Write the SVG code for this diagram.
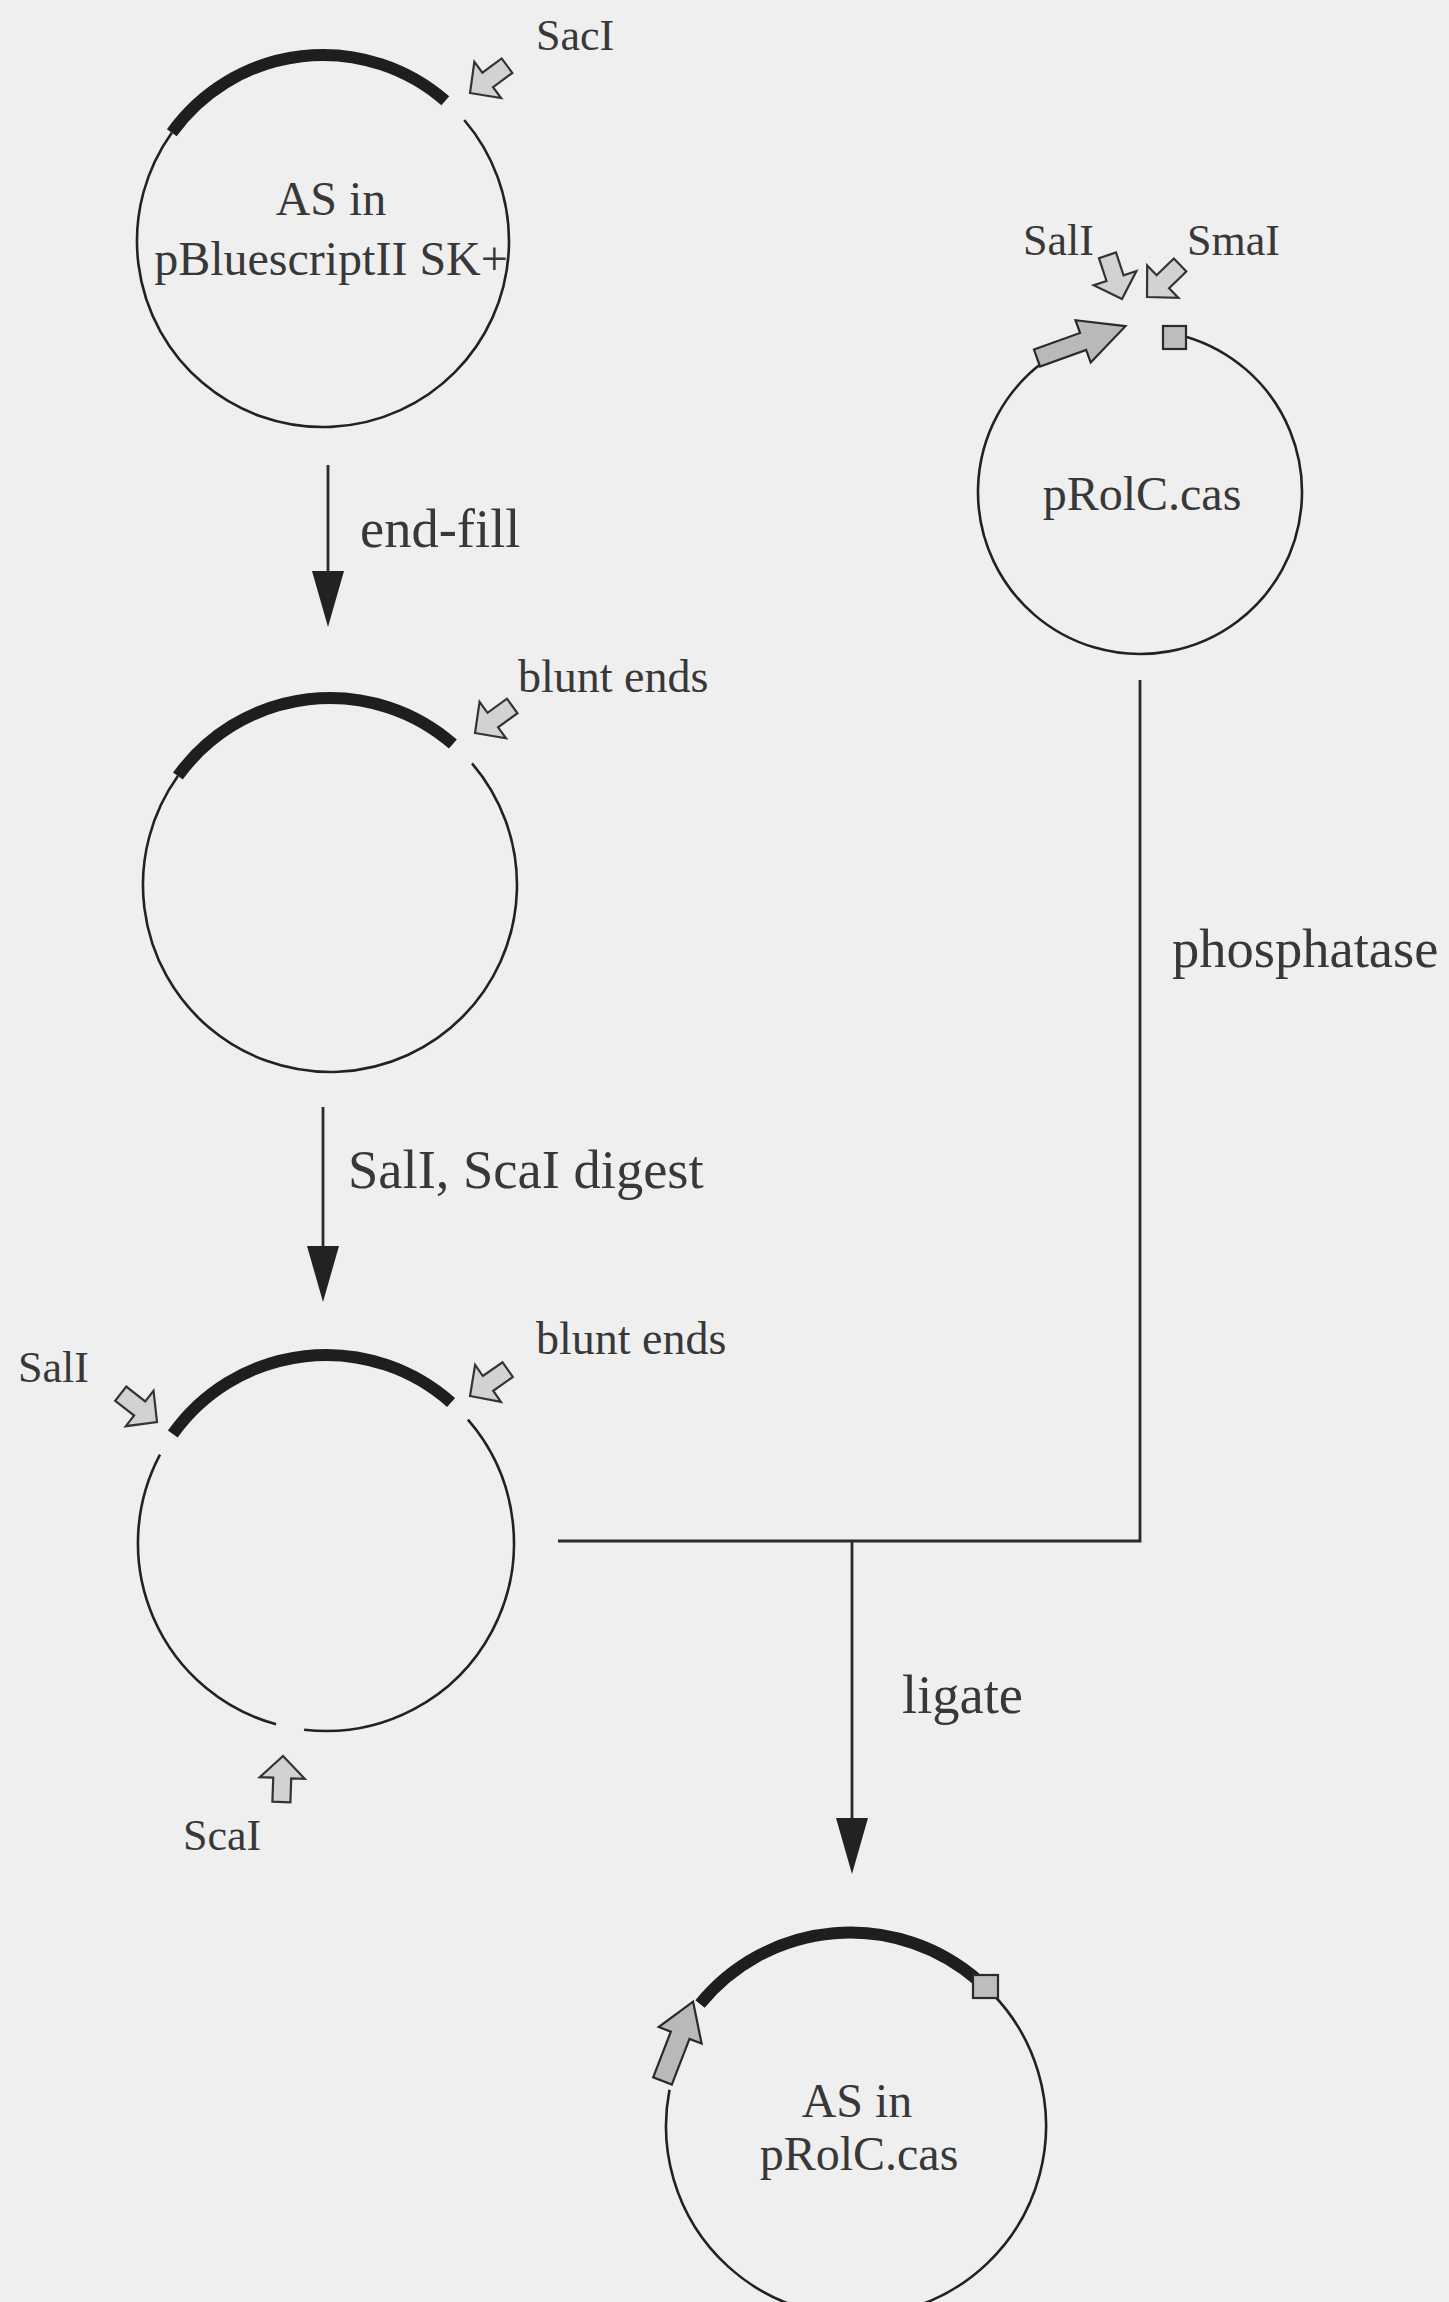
<svg xmlns="http://www.w3.org/2000/svg" xmlns:xlink="http://www.w3.org/1999/xlink" width="1449" height="2302" viewBox="0 0 1449 2302">
  <style>
    .bg { fill: #efefef; }
    .dna { fill: none; stroke: #222; stroke-width: 2.6; }
    .insert { fill: none; stroke: #1e1e1e; stroke-width: 12; stroke-linecap: butt; }
    .site { fill: #d2d2d2; stroke: #333; stroke-width: 2.2; stroke-linejoin: miter; }
    .prom { fill: #b9b9b9; stroke: #2a2a2a; stroke-width: 2.2; }
    .term { fill: #bdbdbd; stroke: #2a2a2a; stroke-width: 2.2; }
    .flow { fill: none; stroke: #2a2a2a; stroke-width: 2.8; }
    text { font-family: "Liberation Serif", "Times New Roman", serif; fill: #383838; }
    .lbl { font-size: 44px; }
    .lbl2 { font-size: 46px; }
    .step { font-size: 54.5px; }
    .name { font-size: 48px; text-anchor: middle; }
  </style>
  <defs>
    <!-- outlined block arrow marking a restriction site; tip at origin, pointing along +x -->
    <path id="site" d="M0,0 L-22,-22.5 L-22,-9 L-46,-9 L-46,9 L-22,9 L-22,22.5 Z"/>
    <marker id="head" viewBox="0 0 56 32" refX="0" refY="16" markerWidth="56" markerHeight="32" markerUnits="userSpaceOnUse" orient="auto">
      <path d="M0,0 L56,16 L0,32 Z" fill="#222"/>
    </marker>
  </defs>

  <rect class="bg" x="0" y="0" width="1449" height="2302"/>

  <!-- AS insert in pBluescriptII SK+ -->
  <g id="plasmid-bluescript">
    <path class="dna" d="M464.2,120 A186,186 0 1 1 171.8,132.7"/>
    <path class="insert" d="M171.8,132.7 A186,186 0 0 1 445.3,100.8"/>
    <use xlink:href="#site" class="site" transform="translate(470,93) rotate(143.6)"/>
    <text class="lbl" x="536" y="50">SacI</text>
    <text class="name" x="331" y="215">AS in</text>
    <text class="name" x="331" y="275">pBluescriptII SK+</text>
  </g>

  <!-- after end-fill -->
  <g id="plasmid-bluntended">
    <path class="dna" d="M472,763.3 A187,187 0 1 1 177.9,776.1"/>
    <path class="insert" d="M177.9,776.1 A187,187 0 0 1 452.9,744.1"/>
    <use xlink:href="#site" class="site" transform="translate(475,733) rotate(144)"/>
    <text class="lbl2" x="518" y="692">blunt ends</text>
  </g>

  <!-- after SalI / ScaI digest -->
  <g id="plasmid-digested">
    <path class="dna" d="M467.9,1419.7 A188,188 0 0 1 304.1,1729.7"/>
    <path class="dna" d="M276.1,1724.3 A188,188 0 0 1 160,1454.7"/>
    <path class="insert" d="M172.8,1434.1 A188,188 0 0 1 451.1,1402.6"/>
    <use xlink:href="#site" class="site" transform="translate(157,1422) rotate(38)"/>
    <use xlink:href="#site" class="site" transform="translate(470,1396) rotate(145)"/>
    <use xlink:href="#site" class="site" transform="translate(283,1756) rotate(-88)"/>
    <text class="lbl" x="18" y="1382">SalI</text>
    <text class="lbl2" x="536" y="1354">blunt ends</text>
    <text class="lbl" x="183" y="1850">ScaI</text>
  </g>

  <!-- vector pRolC.cas -->
  <g id="plasmid-prolc">
    <path class="dna" d="M1186.8,336.9 A162,162 0 1 1 1041.6,363.3"/>
    <path class="prom" transform="translate(1037,358) rotate(-19.8)" d="M0,-9 L49,-9 L49,-22.5 L94,0 L49,22.5 L49,9 L0,9 Z"/>
    <rect class="term" x="1163" y="326" width="23" height="23"/>
    <use xlink:href="#site" class="site" transform="translate(1122,299) rotate(71.6)"/>
    <use xlink:href="#site" class="site" transform="translate(1147,297) rotate(136)"/>
    <text class="lbl" x="1023" y="255">SalI</text>
    <text class="lbl" x="1187" y="255">SmaI</text>
    <text class="name" x="1142" y="510">pRolC.cas</text>
  </g>

  <!-- ligation product -->
  <g id="plasmid-product">
    <path class="dna" d="M992.7,1994 A190,190 0 1 1 669.5,2089.7"/>
    <path class="insert" d="M700,2004 A194,194 0 0 1 978.1,1980.5"/>
    <path class="prom" transform="translate(662.5,2081) rotate(-68.9)" d="M0,-10 L49,-10 L49,-23 L85,0 L49,23 L49,10 L0,10 Z"/>
    <rect class="term" x="973" y="1975" width="25" height="23"/>
    <text class="name" x="857" y="2117">AS in</text>
    <text class="name" x="859" y="2170">pRolC.cas</text>
  </g>

  <!-- process arrows and joins -->
  <g id="connectors">
    <line class="flow" x1="328" y1="465" x2="328" y2="571" marker-end="url(#head)"/>
    <line class="flow" x1="323" y1="1107" x2="323" y2="1246" marker-end="url(#head)"/>
    <polyline class="flow" points="1140,680 1140,1541 558,1541"/>
    <line class="flow" x1="852" y1="1541" x2="852" y2="1818" marker-end="url(#head)"/>
    <text class="step" x="360" y="547">end-fill</text>
    <text class="step" x="348" y="1188">SalI, ScaI digest</text>
    <text class="step" x="1172" y="967">phosphatase</text>
    <text class="step" x="902" y="1713">ligate</text>
  </g>
</svg>
